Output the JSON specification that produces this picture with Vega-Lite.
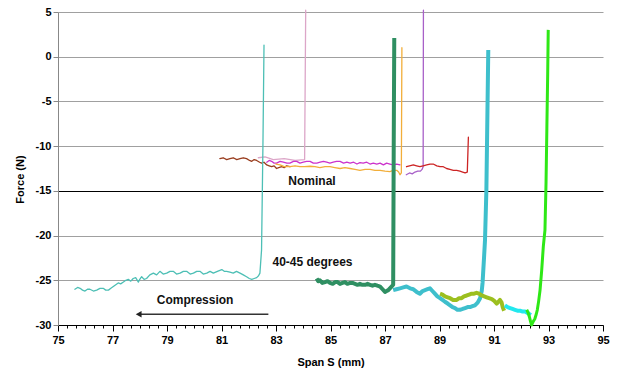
{
  "$schema": "https://vega.github.io/schema/vega-lite/v6.json",
  "width": 545,
  "height": 313,
  "autosize": {"type": "none"},
  "padding": {"left": 58, "top": 12, "right": 17, "bottom": 51},
  "background": "white",
  "config": {"view": {"stroke": null}, "font": "Liberation Sans"},
  "datasets": {
    "curves": [
      {"s":"pink","x":82.35,"y":-11.3},{"s":"pink","x":82.6,"y":-11.2},{"s":"pink","x":82.9,"y":-11.5},{"s":"pink","x":83.3,"y":-11.4},{"s":"pink","x":83.7,"y":-11.6},{"s":"pink","x":84.05,"y":-11.5},{"s":"pink","x":84.09,"y":5.2},
      {"s":"brown","x":80.94,"y":-11.4},{"s":"brown","x":81.06,"y":-11.3},{"s":"brown","x":81.19,"y":-11.5},{"s":"brown","x":81.31,"y":-11.4},{"s":"brown","x":81.43,"y":-11.3},{"s":"brown","x":81.56,"y":-11.5},{"s":"brown","x":81.68,"y":-11.4},{"s":"brown","x":81.8,"y":-11.3},{"s":"brown","x":81.92,"y":-11.4},{"s":"brown","x":82.03,"y":-11.6},{"s":"brown","x":82.11,"y":-11.7},{"s":"brown","x":82.2,"y":-11.5},{"s":"brown","x":82.29,"y":-11.6},{"s":"brown","x":82.4,"y":-11.8},{"s":"brown","x":82.47,"y":-11.9},{"s":"brown","x":82.56,"y":-11.8},{"s":"brown","x":82.66,"y":-12.1},{"s":"brown","x":82.75,"y":-12.2},{"s":"brown","x":82.84,"y":-12.3},{"s":"brown","x":82.93,"y":-12.2},{"s":"brown","x":83.02,"y":-12.5},{"s":"brown","x":83.1,"y":-12.4},{"s":"brown","x":83.21,"y":-12.3},{"s":"brown","x":83.3,"y":-12.4},{"s":"brown","x":83.39,"y":-12.2},{"s":"brown","x":83.51,"y":-12.3},
      {"s":"magenta","x":82.66,"y":-11.8},{"s":"magenta","x":82.75,"y":-11.6},{"s":"magenta","x":82.84,"y":-11.7},{"s":"magenta","x":82.93,"y":-11.9},{"s":"magenta","x":83.02,"y":-11.9},{"s":"magenta","x":83.15,"y":-11.7},{"s":"magenta","x":83.27,"y":-11.8},{"s":"magenta","x":83.4,"y":-11.9},{"s":"magenta","x":83.51,"y":-11.9},{"s":"magenta","x":83.64,"y":-11.7},{"s":"magenta","x":83.76,"y":-11.7},{"s":"magenta","x":83.88,"y":-11.9},{"s":"magenta","x":84.0,"y":-11.8},{"s":"magenta","x":84.12,"y":-11.7},{"s":"magenta","x":84.25,"y":-11.7},{"s":"magenta","x":84.37,"y":-11.9},{"s":"magenta","x":84.5,"y":-11.9},{"s":"magenta","x":84.62,"y":-11.8},{"s":"magenta","x":84.74,"y":-11.7},{"s":"magenta","x":84.86,"y":-11.8},{"s":"magenta","x":84.98,"y":-11.9},{"s":"magenta","x":85.1,"y":-11.8},{"s":"magenta","x":85.22,"y":-11.7},{"s":"magenta","x":85.35,"y":-11.7},{"s":"magenta","x":85.48,"y":-11.9},{"s":"magenta","x":85.6,"y":-11.8},{"s":"magenta","x":85.72,"y":-11.9},{"s":"magenta","x":85.85,"y":-11.8},{"s":"magenta","x":85.97,"y":-12.0},{"s":"magenta","x":86.08,"y":-11.85},{"s":"magenta","x":86.2,"y":-11.9},{"s":"magenta","x":86.33,"y":-11.8},{"s":"magenta","x":86.45,"y":-12.0},{"s":"magenta","x":86.57,"y":-11.9},{"s":"magenta","x":86.7,"y":-12.0},{"s":"magenta","x":86.82,"y":-11.9},{"s":"magenta","x":86.94,"y":-12.1},{"s":"magenta","x":87.06,"y":-11.9},{"s":"magenta","x":87.18,"y":-12.0},{"s":"magenta","x":87.3,"y":-12.1},{"s":"magenta","x":87.43,"y":-12.0},{"s":"magenta","x":87.55,"y":-12.1},
      {"s":"orange","x":83.0,"y":-12.0},{"s":"orange","x":83.15,"y":-12.1},{"s":"orange","x":83.3,"y":-12.3},{"s":"orange","x":83.51,"y":-12.3},{"s":"orange","x":83.7,"y":-12.2},{"s":"orange","x":83.88,"y":-12.3},{"s":"orange","x":84.05,"y":-12.3},{"s":"orange","x":84.25,"y":-12.25},{"s":"orange","x":84.43,"y":-12.3},{"s":"orange","x":84.61,"y":-12.4},{"s":"orange","x":84.8,"y":-12.3},{"s":"orange","x":84.98,"y":-12.3},{"s":"orange","x":85.16,"y":-12.4},{"s":"orange","x":85.35,"y":-12.5},{"s":"orange","x":85.53,"y":-12.4},{"s":"orange","x":85.72,"y":-12.5},{"s":"orange","x":85.9,"y":-12.6},{"s":"orange","x":86.08,"y":-12.7},{"s":"orange","x":86.27,"y":-12.6},{"s":"orange","x":86.45,"y":-12.6},{"s":"orange","x":86.63,"y":-12.7},{"s":"orange","x":86.82,"y":-12.7},{"s":"orange","x":87.0,"y":-12.8},{"s":"orange","x":87.18,"y":-12.85},{"s":"orange","x":87.3,"y":-12.7},{"s":"orange","x":87.43,"y":-12.7},{"s":"orange","x":87.5,"y":-12.9},{"s":"orange","x":87.55,"y":-13.2},{"s":"orange","x":87.6,"y":-13.0},{"s":"orange","x":87.62,"y":1.0},
      {"s":"violet","x":87.78,"y":-13.2},{"s":"violet","x":87.9,"y":-13.0},{"s":"violet","x":88.0,"y":-13.1},{"s":"violet","x":88.1,"y":-12.9},{"s":"violet","x":88.2,"y":-12.8},{"s":"violet","x":88.3,"y":-12.8},{"s":"violet","x":88.36,"y":-12.6},{"s":"violet","x":88.4,"y":-12.3},{"s":"violet","x":88.41,"y":5.2},
      {"s":"red","x":87.79,"y":-12.3},{"s":"red","x":87.9,"y":-12.2},{"s":"red","x":88.04,"y":-12.1},{"s":"red","x":88.16,"y":-12.2},{"s":"red","x":88.28,"y":-12.3},{"s":"red","x":88.4,"y":-12.2},{"s":"red","x":88.53,"y":-12.1},{"s":"red","x":88.65,"y":-12.0},{"s":"red","x":88.77,"y":-12.0},{"s":"red","x":88.9,"y":-12.2},{"s":"red","x":89.02,"y":-12.3},{"s":"red","x":89.14,"y":-12.3},{"s":"red","x":89.26,"y":-12.5},{"s":"red","x":89.38,"y":-12.6},{"s":"red","x":89.51,"y":-12.7},{"s":"red","x":89.63,"y":-12.7},{"s":"red","x":89.75,"y":-12.8},{"s":"red","x":89.85,"y":-12.9},{"s":"red","x":89.94,"y":-13.0},{"s":"red","x":90.02,"y":-12.9},{"s":"red","x":90.06,"y":-9.0},
      {"s":"teal","x":75.62,"y":-26.0},{"s":"teal","x":75.72,"y":-25.8},{"s":"teal","x":75.81,"y":-25.9},{"s":"teal","x":75.9,"y":-26.1},{"s":"teal","x":75.99,"y":-26.2},{"s":"teal","x":76.08,"y":-26.0},{"s":"teal","x":76.17,"y":-26.0},{"s":"teal","x":76.3,"y":-26.2},{"s":"teal","x":76.42,"y":-26.1},{"s":"teal","x":76.54,"y":-25.9},{"s":"teal","x":76.66,"y":-25.9},{"s":"teal","x":76.75,"y":-26.1},{"s":"teal","x":76.85,"y":-26.1},{"s":"teal","x":76.94,"y":-25.9},{"s":"teal","x":77.03,"y":-25.7},{"s":"teal","x":77.12,"y":-25.5},{"s":"teal","x":77.21,"y":-25.3},{"s":"teal","x":77.3,"y":-25.4},{"s":"teal","x":77.4,"y":-25.2},{"s":"teal","x":77.49,"y":-25.0},{"s":"teal","x":77.58,"y":-24.9},{"s":"teal","x":77.67,"y":-25.1},{"s":"teal","x":77.76,"y":-24.8},{"s":"teal","x":77.85,"y":-24.7},{"s":"teal","x":77.95,"y":-25.2},{"s":"teal","x":78.0,"y":-24.9},{"s":"teal","x":78.07,"y":-24.6},{"s":"teal","x":78.16,"y":-24.9},{"s":"teal","x":78.25,"y":-24.8},{"s":"teal","x":78.37,"y":-24.4},{"s":"teal","x":78.5,"y":-24.2},{"s":"teal","x":78.62,"y":-24.4},{"s":"teal","x":78.74,"y":-24.0},{"s":"teal","x":78.86,"y":-24.3},{"s":"teal","x":78.99,"y":-24.2},{"s":"teal","x":79.11,"y":-24.0},{"s":"teal","x":79.23,"y":-24.0},{"s":"teal","x":79.35,"y":-24.3},{"s":"teal","x":79.48,"y":-24.2},{"s":"teal","x":79.6,"y":-24.0},{"s":"teal","x":79.72,"y":-24.0},{"s":"teal","x":79.85,"y":-24.3},{"s":"teal","x":79.97,"y":-24.2},{"s":"teal","x":80.09,"y":-24.0},{"s":"teal","x":80.21,"y":-24.0},{"s":"teal","x":80.33,"y":-24.3},{"s":"teal","x":80.46,"y":-24.2},{"s":"teal","x":80.58,"y":-24.0},{"s":"teal","x":80.7,"y":-24.2},{"s":"teal","x":80.85,"y":-24.0},{"s":"teal","x":81.01,"y":-23.8},{"s":"teal","x":81.1,"y":-24.0},{"s":"teal","x":81.19,"y":-24.0},{"s":"teal","x":81.31,"y":-24.1},{"s":"teal","x":81.43,"y":-24.2},{"s":"teal","x":81.55,"y":-24.0},{"s":"teal","x":81.68,"y":-24.2},{"s":"teal","x":81.8,"y":-24.4},{"s":"teal","x":81.92,"y":-24.6},{"s":"teal","x":82.02,"y":-24.8},{"s":"teal","x":82.11,"y":-24.9},{"s":"teal","x":82.2,"y":-24.8},{"s":"teal","x":82.29,"y":-24.7},{"s":"teal","x":82.36,"y":-24.5},{"s":"teal","x":82.41,"y":-24.2},{"s":"teal","x":82.47,"y":-21.6},{"s":"teal","x":82.52,"y":-10},{"s":"teal","x":82.56,"y":1.3},
      {"s":"dkgreen","x":84.49,"y":-24.8},{"s":"dkgreen","x":84.55,"y":-25.1},{"s":"dkgreen","x":84.61,"y":-25.0},{"s":"dkgreen","x":84.7,"y":-25.3},{"s":"dkgreen","x":84.8,"y":-25.2},{"s":"dkgreen","x":84.89,"y":-25.1},{"s":"dkgreen","x":84.98,"y":-25.3},{"s":"dkgreen","x":85.08,"y":-25.4},{"s":"dkgreen","x":85.17,"y":-25.2},{"s":"dkgreen","x":85.26,"y":-25.2},{"s":"dkgreen","x":85.35,"y":-25.4},{"s":"dkgreen","x":85.44,"y":-25.3},{"s":"dkgreen","x":85.53,"y":-25.2},{"s":"dkgreen","x":85.62,"y":-25.4},{"s":"dkgreen","x":85.72,"y":-25.3},{"s":"dkgreen","x":85.81,"y":-25.3},{"s":"dkgreen","x":85.9,"y":-25.4},{"s":"dkgreen","x":85.99,"y":-25.5},{"s":"dkgreen","x":86.08,"y":-25.4},{"s":"dkgreen","x":86.17,"y":-25.5},{"s":"dkgreen","x":86.27,"y":-25.5},{"s":"dkgreen","x":86.36,"y":-25.4},{"s":"dkgreen","x":86.45,"y":-25.5},{"s":"dkgreen","x":86.54,"y":-25.6},{"s":"dkgreen","x":86.63,"y":-25.5},{"s":"dkgreen","x":86.72,"y":-25.6},{"s":"dkgreen","x":86.82,"y":-25.7},{"s":"dkgreen","x":86.91,"y":-26.0},{"s":"dkgreen","x":87.0,"y":-26.3},{"s":"dkgreen","x":87.06,"y":-26.2},{"s":"dkgreen","x":87.12,"y":-26.1},{"s":"dkgreen","x":87.18,"y":-25.9},{"s":"dkgreen","x":87.24,"y":-25.7},{"s":"dkgreen","x":87.3,"y":-25.5},{"s":"dkgreen","x":87.32,"y":-10},{"s":"dkgreen","x":87.34,"y":2.1},
      {"s":"turq","x":87.3,"y":-26.1},{"s":"turq","x":87.42,"y":-26.0},{"s":"turq","x":87.55,"y":-25.9},{"s":"turq","x":87.67,"y":-25.8},{"s":"turq","x":87.79,"y":-25.7},{"s":"turq","x":87.92,"y":-25.9},{"s":"turq","x":88.04,"y":-26.0},{"s":"turq","x":88.16,"y":-26.3},{"s":"turq","x":88.28,"y":-26.5},{"s":"turq","x":88.38,"y":-26.2},{"s":"turq","x":88.47,"y":-26.1},{"s":"turq","x":88.56,"y":-26.0},{"s":"turq","x":88.65,"y":-25.9},{"s":"turq","x":88.74,"y":-26.2},{"s":"turq","x":88.83,"y":-26.5},{"s":"turq","x":88.92,"y":-26.8},{"s":"turq","x":89.02,"y":-27.0},{"s":"turq","x":89.11,"y":-27.2},{"s":"turq","x":89.2,"y":-27.4},{"s":"turq","x":89.3,"y":-27.6},{"s":"turq","x":89.39,"y":-27.8},{"s":"turq","x":89.48,"y":-28.0},{"s":"turq","x":89.57,"y":-28.1},{"s":"turq","x":89.66,"y":-28.3},{"s":"turq","x":89.75,"y":-28.3},{"s":"turq","x":89.85,"y":-28.2},{"s":"turq","x":89.94,"y":-28.1},{"s":"turq","x":90.03,"y":-28.0},{"s":"turq","x":90.12,"y":-28.0},{"s":"turq","x":90.21,"y":-27.9},{"s":"turq","x":90.3,"y":-27.8},{"s":"turq","x":90.4,"y":-27.5},{"s":"turq","x":90.49,"y":-27.0},{"s":"turq","x":90.55,"y":-26.2},{"s":"turq","x":90.58,"y":-25.3},{"s":"turq","x":90.63,"y":-22.7},{"s":"turq","x":90.67,"y":-20.5},{"s":"turq","x":90.72,"y":-15},{"s":"turq","x":90.76,"y":-6},{"s":"turq","x":90.79,"y":0.75},
      {"s":"ygreen","x":89.02,"y":-26.5},{"s":"ygreen","x":89.11,"y":-26.6},{"s":"ygreen","x":89.2,"y":-26.8},{"s":"ygreen","x":89.3,"y":-26.9},{"s":"ygreen","x":89.39,"y":-27.0},{"s":"ygreen","x":89.5,"y":-27.2},{"s":"ygreen","x":89.63,"y":-27.2},{"s":"ygreen","x":89.72,"y":-27.0},{"s":"ygreen","x":89.81,"y":-27.0},{"s":"ygreen","x":89.9,"y":-26.8},{"s":"ygreen","x":90.0,"y":-26.7},{"s":"ygreen","x":90.09,"y":-26.6},{"s":"ygreen","x":90.18,"y":-26.5},{"s":"ygreen","x":90.27,"y":-26.5},{"s":"ygreen","x":90.36,"y":-26.4},{"s":"ygreen","x":90.45,"y":-26.5},{"s":"ygreen","x":90.55,"y":-26.7},{"s":"ygreen","x":90.64,"y":-26.8},{"s":"ygreen","x":90.73,"y":-26.9},{"s":"ygreen","x":90.82,"y":-27.0},{"s":"ygreen","x":90.92,"y":-27.1},{"s":"ygreen","x":91.01,"y":-27.3},{"s":"ygreen","x":91.1,"y":-27.6},{"s":"ygreen","x":91.16,"y":-27.4},{"s":"ygreen","x":91.22,"y":-27.2},{"s":"ygreen","x":91.28,"y":-27.5},{"s":"ygreen","x":91.32,"y":-28.0},{"s":"ygreen","x":91.37,"y":-28.4},
      {"s":"cyan","x":91.4,"y":-27.8},{"s":"cyan","x":91.5,"y":-28.0},{"s":"cyan","x":91.59,"y":-28.1},{"s":"cyan","x":91.68,"y":-28.2},{"s":"cyan","x":91.77,"y":-28.3},{"s":"cyan","x":91.86,"y":-28.4},{"s":"cyan","x":91.95,"y":-28.4},{"s":"cyan","x":92.05,"y":-28.5},{"s":"cyan","x":92.14,"y":-28.5},{"s":"cyan","x":92.2,"y":-28.6},{"s":"cyan","x":92.26,"y":-28.7},{"s":"cyan","x":92.35,"y":-28.9},
      {"s":"lime","x":92.2,"y":-28.3},{"s":"lime","x":92.25,"y":-28.6},{"s":"lime","x":92.3,"y":-29.1},{"s":"lime","x":92.34,"y":-29.6},{"s":"lime","x":92.38,"y":-30.0},{"s":"lime","x":92.44,"y":-29.6},{"s":"lime","x":92.5,"y":-29.3},{"s":"lime","x":92.55,"y":-28.8},{"s":"lime","x":92.59,"y":-28.3},{"s":"lime","x":92.64,"y":-27.3},{"s":"lime","x":92.69,"y":-26.1},{"s":"lime","x":92.75,"y":-23.9},{"s":"lime","x":92.81,"y":-21.2},{"s":"lime","x":92.87,"y":-19.4},{"s":"lime","x":92.91,"y":-14},{"s":"lime","x":92.94,"y":-8},{"s":"lime","x":92.97,"y":-2},{"s":"lime","x":92.99,"y":3.0}
    ],
    "notes": [
      {"t": "Nominal", "x": 84.32, "y": -13.95},
      {"t": "40-45 degrees", "x": 84.34, "y": -22.9},
      {"t": "Compression", "x": 80.03, "y": -27.15}
    ],
    "arrow": [{"x": 77.95, "x2": 82.72, "y": -28.8}],
    "head": [{"x": 77.96, "y": -28.8}]
  },
  "encoding": {
    "x": {
      "field": "x", "type": "quantitative",
      "scale": {"domain": [75, 95], "nice": false, "zero": false},
      "axis": {
        "title": "Span S (mm)",
        "values": [75,75.3333,75.6667,76,76.3333,76.6667,77,77.3333,77.6667,78,78.3333,78.6667,79,79.3333,79.6667,80,80.3333,80.6667,81,81.3333,81.6667,82,82.3333,82.6667,83,83.3333,83.6667,84,84.3333,84.6667,85,85.3333,85.6667,86,86.3333,86.6667,87,87.3333,87.6667,88,88.3333,88.6667,89,89.3333,89.6667,90,90.3333,90.6667,91,91.3333,91.6667,92,92.3333,92.6667,93,93.3333,93.6667,94,94.3333,94.6667,95],
        "labelExpr": "(abs(datum.value - round(datum.value)) < 0.01 && round(datum.value) % 2 == 1) ? ('' + round(datum.value)) : ''",
        "tickSize": {"condition": {"test": "abs(datum.value - round(datum.value)) < 0.01 && round(datum.value) % 2 == 1", "value": 6}, "value": 3},
        "grid": false,
        "domainColor": "#000", "tickColor": "#000",
        "labelFont": "Liberation Sans", "labelFontWeight": "bold", "labelFontSize": 11, "labelColor": "#000",
        "labelPadding": 3, "labelOverlap": false, "labelFlush": false,
        "titleFont": "Liberation Sans", "titleFontWeight": "bold", "titleFontSize": 11, "titleColor": "#000",
        "titlePadding": 11
      }
    },
    "y": {
      "field": "y", "type": "quantitative",
      "scale": {"domain": [-30, 5], "nice": false, "zero": false},
      "axis": {
        "title": "Force (N)",
        "values": [-30, -25, -20, -15, -10, -5, 0, 5],
        "labelExpr": "'' + datum.value",
        "grid": true,
        "gridColor": {"condition": {"test": "datum.value == -15", "value": "#000"}, "value": "#a0a0a0"},
        "domainColor": "#888", "tickColor": "#888", "tickSize": 5,
        "labelFont": "Liberation Sans", "labelFontWeight": "bold", "labelFontSize": 11, "labelColor": "#000",
        "labelPadding": 2, "labelOverlap": false,
        "titleFont": "Liberation Sans", "titleFontWeight": "bold", "titleFontSize": 11, "titleColor": "#000",
        "titleX": -38, "titleY": 167, "titleAngle": -90, "titleAlign": "center", "titleBaseline": "middle"
      }
    },
    "color": {"field": "s", "type": "nominal", "legend": null,
      "scale": {"domain": ["pink","brown","magenta","orange","violet","red","teal","dkgreen","turq","ygreen","cyan","lime"],
                "range": ["#dca6c8","#993d1e","#cc33cc","#f2ae3a","#a860c8","#cc2424","#4dbfb5","#2f8f62","#3ebfcc","#9cbf1f","#22e8ee","#2ee816"]}}
  },
  "layer": [
    {
      "data": {"name": "curves"},
      "transform": [{"filter": {"field": "s", "oneOf": ["pink","brown","magenta","orange","violet","red","teal"]}}],
      "mark": {"type": "line", "strokeJoin": "round", "strokeCap": "round", "clip": false, "strokeWidth": 1.3},
      "encoding": {"order": {"value": null}}
    },
    {
      "data": {"name": "curves"},
      "transform": [{"filter": {"field": "s", "oneOf": ["dkgreen","turq","ygreen","cyan"]}}],
      "mark": {"type": "line", "strokeJoin": "round", "strokeCap": "butt", "clip": false, "strokeWidth": 4},
      "encoding": {"order": {"value": null}}
    },
    {
      "data": {"name": "curves"},
      "transform": [{"filter": {"field": "s", "oneOf": ["lime"]}}],
      "mark": {"type": "line", "strokeJoin": "round", "strokeCap": "butt", "clip": false, "strokeWidth": 3},
      "encoding": {"order": {"value": null}}
    },
    {
      "data": {"name": "arrow"},
      "mark": {"type": "rule", "color": "#333", "strokeWidth": 1.6},
      "encoding": {"x2": {"field": "x2"}, "color": {"value": "#333"}}
    },
    {
      "data": {"name": "head"},
      "mark": {"type": "point", "shape": "triangle-left", "filled": true, "size": 45, "opacity": 1},
      "encoding": {"color": {"value": "#222"}}
    },
    {
      "data": {"name": "notes"},
      "mark": {"type": "text", "font": "Liberation Sans", "fontWeight": "bold", "fontSize": 12, "align": "center", "baseline": "middle"},
      "encoding": {"text": {"field": "t"}, "color": {"value": "#111"}}
    }
  ]
}
